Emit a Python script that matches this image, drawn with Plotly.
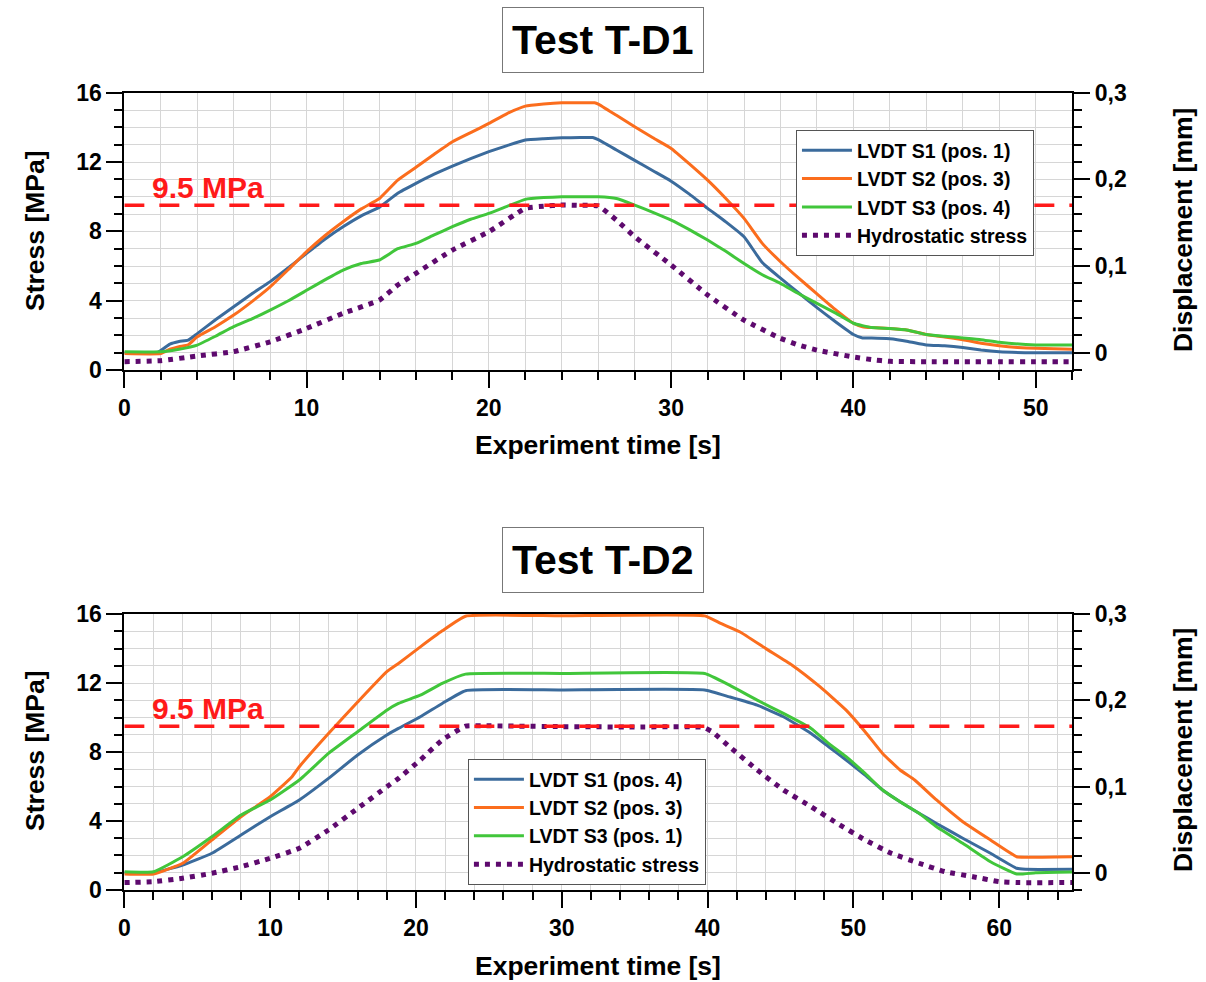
import plotly.graph_objects as go

# ---------------- Test T-D1 ----------------
td1_s1_t = [0, 1.8, 2.5, 3.0, 3.5, 4, 5, 6, 7, 8, 9, 10, 11, 12, 13, 14, 15, 16, 17, 18, 19, 20, 21, 22, 23, 24, 25,
            25.7, 26, 27, 28, 29, 30, 31, 32, 33, 34, 35, 36, 37, 38, 39, 40, 40.5, 41, 42, 43, 44, 45, 46, 47, 48, 50, 52]
td1_s1_mm = [0, 0, 0.010, 0.013, 0.0144, 0.022, 0.038, 0.053, 0.068, 0.082, 0.098, 0.1146, 0.131, 0.1454, 0.158, 0.168,
             0.184, 0.1954, 0.206, 0.2154, 0.224, 0.232, 0.239, 0.2454, 0.247, 0.248, 0.2484,
             0.2484, 0.246, 0.234, 0.222, 0.210, 0.198, 0.183, 0.1666, 0.151, 0.1338, 0.104, 0.086, 0.069, 0.052, 0.036,
             0.021, 0.017, 0.017, 0.016, 0.013, 0.009, 0.008, 0.006, 0.003, 0.001, 0, 0]

td1_s2_t = [0, 2, 2.5, 3, 3.5, 4, 5, 6, 7, 8, 9, 10, 11, 12, 13, 14, 15, 16, 17, 18, 19, 20, 21, 22, 23, 24, 25,
            25.8, 26, 27, 28, 29, 30, 31, 32, 33, 34, 35, 36, 37, 38, 39, 40, 40.5, 41, 42, 43, 44, 45, 46, 47, 48,
            49, 50, 52]
td1_s2_mm = [-0.001, -0.001, 0.004, 0.007, 0.009, 0.0184, 0.030, 0.0434, 0.059, 0.076, 0.096, 0.1166, 0.135, 0.1512,
             0.166, 0.178, 0.1992, 0.214, 0.229, 0.2434, 0.254, 0.2646, 0.276, 0.2846, 0.287, 0.2884, 0.2884,
             0.2884, 0.287, 0.274, 0.2608, 0.248, 0.2358, 0.218, 0.1992, 0.178, 0.155, 0.1262, 0.105, 0.086, 0.068,
             0.050, 0.034, 0.030, 0.029, 0.028, 0.026, 0.021, 0.018, 0.015, 0.011, 0.008, 0.006, 0.005, 0.004]

td1_s3_t = [0, 2, 3, 4, 5, 6, 7, 8, 9, 10, 11, 12, 13, 14, 15, 16, 17, 18, 19, 20, 21, 22, 23, 24, 25, 26, 27, 28,
            29, 30, 31, 32, 33, 34, 35, 36, 37, 38, 39, 40, 41, 42, 43, 44, 45, 46, 47, 48, 50, 52]
td1_s3_mm = [0.001, 0.001, 0.004, 0.0088, 0.019, 0.030, 0.039, 0.0492, 0.060, 0.072, 0.084, 0.0954, 0.103, 0.107,
             0.120, 0.1262, 0.136, 0.1454, 0.154, 0.1608, 0.169, 0.177, 0.179, 0.180, 0.180, 0.180, 0.178, 0.1704,
             0.162, 0.153, 0.142, 0.130, 0.117, 0.103, 0.090, 0.080, 0.068, 0.057, 0.046, 0.034, 0.029, 0.028, 0.026,
             0.021, 0.019, 0.017, 0.015, 0.012, 0.009, 0.009]

td1_hyd_t = [0, 2, 4, 6, 8, 10, 12, 14, 15, 16, 18, 20, 22, 23, 24, 25, 26, 27, 28, 30, 32, 34, 36, 37, 38, 40, 41,
             42, 44, 46, 48, 50, 52]
td1_hyd_mpa = [0.48, 0.54, 0.81, 1.06, 1.63, 2.4, 3.27, 4.04, 4.9, 5.58, 6.92, 7.98, 9.33, 9.45, 9.52, 9.5, 9.47,
               8.65, 7.69, 6.06, 4.33, 2.88, 1.83, 1.44, 1.15, 0.75, 0.6, 0.5, 0.48, 0.48, 0.48, 0.48, 0.48]

# ---------------- Test T-D2 ----------------
td2_s1_t = [0, 2, 4, 6, 8, 10, 12, 14, 16, 18, 18.8, 20.3, 21.8, 23.4, 30, 39.8, 41.5, 43.4, 45.2, 47.1, 48.3, 49.5,
            50.8, 52, 53.2, 54.5, 55.7, 57.5, 59.4, 61.2, 61.8, 65]
td2_s1_mm = [0, 0, 0.009, 0.0226, 0.0438, 0.065, 0.0844, 0.1094, 0.1366, 0.1598, 0.1674, 0.181, 0.1964, 0.2112,
             0.212, 0.212, 0.204, 0.1944, 0.181, 0.1616, 0.1462, 0.1308, 0.1134, 0.096, 0.0824, 0.069, 0.0572, 0.040,
             0.0226, 0.0052, 0.004, 0.004]

td2_s2_t = [0, 2, 4, 6, 8, 10, 11.5, 12, 14, 16, 18, 18.8, 20.3, 21.8, 23.4, 30, 39.8, 40.9, 42.2, 44, 45.8, 47.7,
            49.5, 50.8, 52, 53.2, 54.2, 55.7, 57.5, 59.4, 61.2, 61.8, 65]
td2_s2_mm = [-0.0014, -0.0014, 0.011, 0.038, 0.065, 0.0882, 0.1114, 0.123, 0.1616, 0.198, 0.2332, 0.2428, 0.262,
             0.2806, 0.2976, 0.298, 0.298, 0.2892, 0.2796, 0.260, 0.2408, 0.2158, 0.1886, 0.1636, 0.1384, 0.1192,
             0.1076, 0.0844, 0.0592, 0.038, 0.0186, 0.018, 0.0186]

td2_s3_t = [0, 2, 4, 6, 8, 10, 12, 14, 16, 18, 18.8, 20.3, 21.8, 23.4, 30, 39.8, 41.5, 43.4, 45.2, 47.1, 48.3, 49.5,
            50.8, 52, 53.2, 54.5, 55.7, 57.5, 59.4, 61.2, 62.5, 65]
td2_s3_mm = [0.0012, 0.0012, 0.0186, 0.0418, 0.067, 0.0844, 0.1076, 0.1384, 0.1636, 0.1886, 0.1964, 0.206, 0.2196,
             0.2304, 0.2312, 0.2312, 0.2176, 0.2002, 0.1848, 0.1674, 0.150, 0.1346, 0.1152, 0.096, 0.0824, 0.069,
             0.0534, 0.0342, 0.0128, -0.0014, 0.0, 0.0008]

td2_hyd_t = [0, 2, 4, 6, 8, 10, 12, 14, 16, 18, 18.8, 20.3, 21.8, 23.4, 25, 30, 35, 39.7, 40.3, 41.5, 43.4, 45.2,
             47.1, 48.9, 50.8, 52.6, 54.5, 56.3, 58.2, 60, 61.2, 65]
td2_hyd_mpa = [0.43, 0.48, 0.68, 0.97, 1.35, 1.84, 2.42, 3.48, 4.73, 5.99, 6.47, 7.54, 8.7, 9.5, 9.52, 9.47, 9.45,
               9.43, 9.18, 8.31, 6.96, 5.8, 4.83, 3.86, 2.9, 2.13, 1.55, 1.06, 0.77, 0.48, 0.43, 0.43]

threshold_mpa = 9.5
td1_names = ["LVDT S1 (pos. 1)", "LVDT S2 (pos. 3)", "LVDT S3 (pos. 4)", "Hydrostatic stress"]
td2_names = ["LVDT S1 (pos. 4)", "LVDT S2 (pos. 3)", "LVDT S3 (pos. 1)", "Hydrostatic stress"]

BLUE, ORANGE, GREEN, PURPLE = "#3b6b9c", "#fb6d1d", "#41c63b", "#5e0a6e"
FONT = "Liberation Sans, Arial, sans-serif"
GRID = "#d6d6d6"

fig = go.Figure()


def add_test(series, names, xa, ya_stress, ya_disp, legend):
    colors = [BLUE, ORANGE, GREEN]
    for (t, v), name, c in zip(series[:3], names[:3], colors):
        fig.add_trace(go.Scatter(x=t, y=v, name=name, mode="lines",
                                 line=dict(color=c, width=3, shape="spline", smoothing=0.4),
                                 xaxis=xa, yaxis=ya_disp, legend=legend))
    t, v = series[3]
    fig.add_trace(go.Scatter(x=t, y=v, name=names[3], mode="lines",
                             line=dict(color=PURPLE, width=5, dash="5px,6px", shape="spline", smoothing=0.4),
                             xaxis=xa, yaxis=ya_stress, legend=legend))


add_test([(td1_s1_t, td1_s1_mm), (td1_s2_t, td1_s2_mm), (td1_s3_t, td1_s3_mm), (td1_hyd_t, td1_hyd_mpa)],
         td1_names, "x", "y", "y2", "legend")
add_test([(td2_s1_t, td2_s1_mm), (td2_s2_t, td2_s2_mm), (td2_s3_t, td2_s3_mm), (td2_hyd_t, td2_hyd_mpa)],
         td2_names, "x2", "y3", "y4", "legend2")

tickfont = dict(family=FONT, size=23, color="black", weight="bold")


def xaxis_cfg(rng, anchor):
    return dict(domain=[0.1031, 0.889], anchor=anchor, range=rng, tick0=0, dtick=10, automargin=False,
                ticks="outside", ticklen=16, tickwidth=2, tickcolor="black",
                showline=True, linecolor="black", linewidth=2, mirror=True,
                showgrid=True, gridcolor=GRID, gridwidth=1, zeroline=False,
                tickfont=tickfont,
                minor=dict(dtick=2, tick0=0, ticks="outside", ticklen=8, tickwidth=2, tickcolor="black",
                           showgrid=True, gridcolor=GRID, gridwidth=1))


def ystress_cfg(domain, anchor):
    return dict(domain=domain, anchor=anchor, range=[0, 16], tick0=0, dtick=4, automargin=False,
                ticks="outside", ticklen=16, tickwidth=2, tickcolor="black",
                showline=True, linecolor="black", linewidth=2,
                showgrid=True, gridcolor=GRID, gridwidth=1, zeroline=False,
                tickfont=tickfont,
                minor=dict(dtick=1, tick0=0, ticks="outside", ticklen=8, tickwidth=2, tickcolor="black",
                           showgrid=True, gridcolor=GRID, gridwidth=1))


def ydisp_cfg(overlay, anchor):
    return dict(overlaying=overlay, anchor=anchor, side="right", range=[-0.02, 0.3001], tick0=0, dtick=0.1,
                automargin=False,
                ticks="outside", ticklen=16, tickwidth=2, tickcolor="black",
                showline=True, linecolor="black", linewidth=2,
                showgrid=False, zeroline=False, tickfont=tickfont,
                minor=dict(dtick=0.02, tick0=0, ticks="outside", ticklen=8, tickwidth=2, tickcolor="black",
                           showgrid=False))


legend_font = dict(family=FONT, size=19.5, color="black", weight="bold")

fig.update_layout(
    width=1206, height=982,
    margin=dict(l=0, r=0, t=0, b=0, pad=0, autoexpand=False),
    paper_bgcolor="white", plot_bgcolor="white",
    separators=", ",
    font=dict(family=FONT, color="black"),
    xaxis=xaxis_cfg([0, 52], "y"),
    yaxis=ystress_cfg([0.6232, 0.9056], "x"),
    yaxis2=ydisp_cfg("y", "x"),
    xaxis2=xaxis_cfg([0, 65], "y3"),
    yaxis3=ystress_cfg([0.0937, 0.3747], "x2"),
    yaxis4=ydisp_cfg("y3", "x2"),
    legend=dict(x=0.660, y=0.8676, xanchor="left", yanchor="top", bgcolor="white", itemwidth=50,
                bordercolor="#555555", borderwidth=1, font=legend_font, tracegroupgap=0),
    legend2=dict(x=0.388, y=0.2271, xanchor="left", yanchor="top", bgcolor="white", itemwidth=50,
                 bordercolor="#555555", borderwidth=1, font=legend_font, tracegroupgap=0),
    showlegend=True,
)

# 9.5 MPa reference lines
for xref, yref, xmax in (("x", "y", 52), ("x2", "y3", 65)):
    fig.add_shape(type="line", xref=xref, yref=yref, x0=0, x1=xmax, y0=threshold_mpa, y1=threshold_mpa,
                  line=dict(color="#ff1a1a", width=3.5, dash="20px,15px"), layer="above")

annotations = []
label_font = dict(family=FONT, size=30, color="#ff1a1a", weight="bold")
annotations.append(dict(x=1.41, y=10.55, xref="x", yref="y", text="9.5 MPa", showarrow=False,
                        xanchor="left", yanchor="middle", font=label_font))
annotations.append(dict(x=1.76, y=10.55, xref="x2", yref="y3", text="9.5 MPa", showarrow=False,
                        xanchor="left", yanchor="middle", font=label_font))

title_font = dict(family=FONT, size=41, color="black", weight="bold")
for txt, yy in (("Test T-D1", 0.9593), ("Test T-D2", 0.4297)):
    annotations.append(dict(x=0.5, y=yy, xref="paper", yref="paper", text=txt, showarrow=False,
                            xanchor="center", yanchor="middle", font=title_font,
                            bordercolor="#777777", borderwidth=1, borderpad=9, bgcolor="white"))

axis_title_font = dict(family=FONT, size=26.5, color="black", weight="bold")
for yy_x, yy_side in ((0.5468, 0.7658), (0.0163, 0.2363)):
    annotations.append(dict(x=0.496, y=yy_x, xref="paper", yref="paper", text="Experiment time [s]",
                            showarrow=False, xanchor="center", yanchor="middle", font=axis_title_font))
    annotations.append(dict(x=0.029, y=yy_side, xref="paper", yref="paper", text="Stress [MPa]",
                            showarrow=False, xanchor="center", yanchor="middle", textangle=-90,
                            font=axis_title_font))
    annotations.append(dict(x=0.981, y=yy_side, xref="paper", yref="paper", text="Displacement [mm]",
                            showarrow=False, xanchor="center", yanchor="middle", textangle=-90,
                            font=axis_title_font))

fig.update_layout(annotations=annotations)

fig.write_html("out.html")
